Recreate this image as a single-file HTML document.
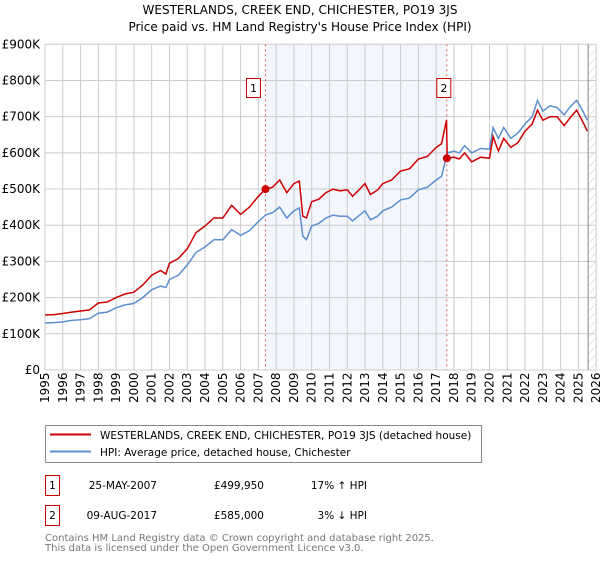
<!DOCTYPE html>
<html><head><meta charset="utf-8"><style>
body{margin:0;background:#fff;}
svg text{font-family:"DejaVu Sans","Liberation Sans",sans-serif;}
</style></head><body>
<svg id="chart" width="600" height="560" xmlns="http://www.w3.org/2000/svg">
<defs><pattern id="hatch" width="6" height="6" patternUnits="userSpaceOnUse" patternTransform="rotate(45)"><line x1="0" y1="0" x2="0" y2="6" stroke="#ccc" stroke-width="1"/></pattern></defs>
<text x="300" y="14" text-anchor="middle" font-size="12">WESTERLANDS, CREEK END, CHICHESTER, PO19 3JS</text>
<text x="300" y="31" text-anchor="middle" font-size="12">Price paid vs. HM Land Registry's House Price Index (HPI)</text>
<g id="grid"></g><g id="series"></g><g id="axes"></g>
<rect x="45.5" y="425.5" width="436" height="37" fill="#fff" stroke="#888"/>
<line x1="50" y1="434.5" x2="91" y2="434.5" stroke="#cc0000" stroke-width="2"/>
<text x="100" y="439" font-size="10.5">WESTERLANDS, CREEK END, CHICHESTER, PO19 3JS (detached house)</text>
<line x1="50" y1="451.5" x2="91" y2="451.5" stroke="#5b8fd0" stroke-width="2"/>
<text x="100" y="456" font-size="10.5">HPI: Average price, detached house, Chichester</text>
<g font-size="10.5">
<rect x="45.5" y="475.5" width="14" height="20" fill="#fff" stroke="#cc0000"/><text x="52.5" y="489" text-anchor="middle">1</text>
<text x="157" y="489" text-anchor="end">25-MAY-2007</text><text x="264" y="489" text-anchor="end">£499,950</text><text x="367" y="489" text-anchor="end">17% ↑ HPI</text></g>
<g font-size="10.5">
<rect x="45.5" y="505.5" width="14" height="20" fill="#fff" stroke="#cc0000"/><text x="52.5" y="519" text-anchor="middle">2</text>
<text x="157" y="519" text-anchor="end">09-AUG-2017</text><text x="264" y="519" text-anchor="end">£585,000</text><text x="367" y="519" text-anchor="end">3% ↓ HPI</text></g>
<text x="45" y="541" font-size="10" fill="#777">Contains HM Land Registry data © Crown copyright and database right 2025.</text>
<text x="45" y="551" font-size="10" fill="#777">This data is licensed under the Open Government Licence v3.0.</text>
</svg>
<script>
const years=[1995,1996,1997,1998,1999,2000,2001,2002,2003,2004,2005,2006,2007,2008,2009,2010,2011,2012,2013,2014,2015,2016,2017,2018,2019,2020,2021,2022,2023,2024,2025,2026];
const yTicks=[0,100,200,300,400,500,600,700,800,900];
const yTickLabels=["£0","£100K","£200K","£300K","£400K","£500K","£600K","£700K","£800K","£900K"];
const dates=[1995.0,1995.5,1996.0,1996.5,1997.0,1997.5,1998.0,1998.5,1999.0,1999.5,2000.0,2000.5,2001.0,2001.5,2001.8,2002.0,2002.5,2003.0,2003.5,2004.0,2004.5,2005.0,2005.5,2006.0,2006.5,2007.0,2007.4,2007.8,2008.2,2008.6,2009.0,2009.3,2009.5,2009.7,2010.0,2010.4,2010.8,2011.2,2011.6,2012.0,2012.3,2012.7,2013.0,2013.3,2013.7,2014.0,2014.5,2015.0,2015.5,2016.0,2016.5,2017.0,2017.3,2017.58,2017.62,2018.0,2018.3,2018.6,2019.0,2019.5,2020.0,2020.2,2020.5,2020.8,2021.2,2021.6,2022.0,2022.4,2022.7,2023.0,2023.4,2023.8,2024.2,2024.5,2024.9,2025.2,2025.5];
const hpi=[130,131,133,137,139,142,157,160,172,180,184,200,222,232,228,250,262,290,325,340,360,360,388,372,385,410,428,435,450,420,440,448,370,360,398,405,420,428,425,425,412,428,440,415,425,440,450,470,475,498,505,525,535,590,600,605,600,620,600,612,610,670,640,670,640,655,680,700,745,715,730,725,705,725,745,720,690];
const price=[152,153,156,160,163,166,185,188,200,210,215,235,262,275,265,295,308,335,380,398,420,420,455,430,450,480,500,505,525,490,515,522,425,420,465,472,490,500,495,498,480,500,515,485,497,515,525,550,556,583,590,615,625,690,585,588,583,600,575,588,585,645,605,640,615,628,660,680,718,690,700,700,675,695,718,690,660];
const sales=[[2007.4,499.95],[2017.6,585]];
const X=y=>45+(y-1995)*17.78, Y=v=>370-v*0.3619;
const ns="http://www.w3.org/2000/svg";
function mk(parent,tag,attrs){const e=document.createElementNS(ns,tag);for(const k in attrs)e.setAttribute(k,attrs[k]);parent.appendChild(e);return e;}
const grid=document.getElementById('grid'),ser=document.getElementById('series'),ax=document.getElementById('axes');
const shade=mk(grid,'rect',{x:X(sales[0][0]),y:Y(900),width:X(sales[1][0])-X(sales[0][0]),height:Y(0)-Y(900),fill:'#eef2fc',opacity:0.7});


const hatch=mk(grid,'rect',{x:X(2025.55),y:Y(900),width:X(2026)-X(2025.55),height:Y(0)-Y(900),fill:'url(#hatch)'});


years.forEach(y=>{const l=mk(grid,'line',{x1:X(y),x2:X(y),y1:Y(900),y2:Y(0),stroke:'#ccc'});


const t=mk(ax,'text',{x:0,y:0,'font-size':'12',transform:`translate(${X(y)+4},${Y(0)+33}) rotate(-90)`});t.textContent=y;

});
yTicks.forEach((v,i)=>{const l=mk(grid,'line',{x1:X(1995),x2:X(2026),y1:Y(v),y2:Y(v),stroke:'#ccc'});


const t=mk(ax,'text',{x:40,y:Y(v)+4,'font-size':'12','text-anchor':'end'});t.textContent=yTickLabels[i];

});
const el=mk(grid,'line',{x1:X(2025.55),x2:X(2025.55),y1:Y(900),y2:Y(0),stroke:'#888'});


sales.forEach((s,i)=>{const l=mk(ser,'line',{x1:X(s[0]),x2:X(s[0]),y1:Y(900),y2:Y(0),stroke:'#e06060','stroke-dasharray':'2,3'});

});
const pts=a=>dates.map((d,i)=>X(d).toFixed(1)+','+Y(a[i]).toFixed(1)).join(' ');
const hl=mk(ser,'polyline',{points:pts(hpi),fill:'none',stroke:'#5b8fd0','stroke-width':1.5});


const pl=mk(ser,'polyline',{points:pts(price),fill:'none',stroke:'#cc0000','stroke-width':1.5});


sales.forEach((s,i)=>{const c=mk(ser,'circle',{cx:X(s[0]),cy:Y(s[1]),r:4,fill:'#cc0000'});


const bx=X(s[0])-(i==0?12:3)-7;
const r=mk(ser,'rect',{x:bx,y:78.5,width:14,height:19,fill:'#fff',stroke:'#cc0000'});


const t=mk(ser,'text',{x:bx+7,y:92,'font-size':'11','text-anchor':'middle'});t.textContent=String(i+1);

});
</script>
</body></html>
